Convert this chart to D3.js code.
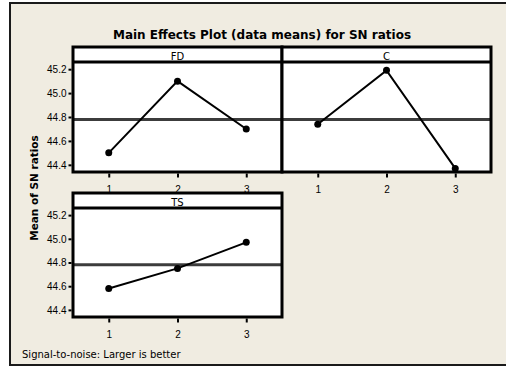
<!DOCTYPE html>
<html>
<head>
<meta charset="utf-8">
<script src="https://cdn.jsdelivr.net/npm/d3@7"></script>
<style>
  body { margin: 0; background: #fff; }
  svg { display: block; font-family: "DejaVu Sans", Verdana, sans-serif; }
</style>
</head>
<body>
<div id="chart"></div>
<script>
// dades
let factors = ['FD', 'C', 'TS']
let levels = [1, 2, 3]
let fdMeans = [44.50, 45.10, 44.70]
let cMeans = [44.74, 45.19, 44.37]
let tsMeans = [44.58, 44.75, 44.97]
let yTicks = [44.4, 44.6, 44.8, 45.0, 45.2]
let grandMean = 44.78

let series = [fdMeans, cMeans, tsMeans]

// posicions dels panells
let panels = [
  { x0: 73, x1: 282, top: 47, plotTop: 62, bottom: 172, yAxis: true },
  { x0: 282, x1: 491, top: 47, plotTop: 62, bottom: 172, yAxis: false },
  { x0: 73, x1: 282, top: 193, plotTop: 208, bottom: 317, yAxis: true }
]

let width = 506
let height = 367
let beige = '#f0ece1'

let svg = d3.select('#chart')
  .append('svg')
  .attr('width', width)
  .attr('height', height)

// marc exterior
svg.append('rect')
  .attr('x', 10).attr('y', 3)
  .attr('width', 510).attr('height', 362)
  .attr('fill', beige)
  .attr('stroke', '#1a1a1a')
  .attr('stroke-width', 2)

svg.append('text')
  .attr('x', 262).attr('y', 39)
  .attr('text-anchor', 'middle')
  .attr('font-weight', 'bold')
  .attr('font-size', 12)
  .text('Main Effects Plot (data means) for SN ratios')

svg.append('text')
  .attr('transform', 'translate(38,188) rotate(-90)')
  .attr('text-anchor', 'middle')
  .attr('font-weight', 'bold')
  .attr('font-size', 10.5)
  .text('Mean of SN ratios')

svg.append('text')
  .attr('x', 22).attr('y', 358)
  .attr('font-size', 10)
  .text('Signal-to-noise: Larger is better')

panels.forEach((p, i) => {
  let g = svg.append('g')
  let x = d3.scaleLinear().domain([0.48, 3.52]).range([p.x0, p.x1])
  let y = d3.scaleLinear().domain([44.34, 45.26]).range([p.bottom, p.plotTop])

  // fons i tira
  g.append('rect')
    .attr('x', p.x0).attr('y', p.top)
    .attr('width', p.x1 - p.x0).attr('height', p.bottom - p.top)
    .attr('fill', 'white')

  // mitjana global
  g.append('line')
    .attr('x1', p.x0).attr('x2', p.x1)
    .attr('y1', y(grandMean)).attr('y2', y(grandMean))
    .attr('stroke', '#3c3c3c')
    .attr('stroke-width', 3)

  let line = d3.line()
    .x((d, j) => x(levels[j]))
    .y(d => y(d))

  g.append('path')
    .datum(series[i])
    .attr('d', line)
    .attr('fill', 'none')
    .attr('stroke', 'black')
    .attr('stroke-width', 2)

  g.selectAll('circle')
    .data(series[i])
    .enter()
    .append('circle')
    .attr('cx', (d, j) => x(levels[j]))
    .attr('cy', d => y(d))
    .attr('r', 3.5)
    .attr('fill', 'black')

  g.append('rect')
    .attr('x', p.x0).attr('y', p.top)
    .attr('width', p.x1 - p.x0).attr('height', p.bottom - p.top)
    .attr('fill', 'none')
    .attr('stroke', 'black')
    .attr('stroke-width', 3)

  g.append('line')
    .attr('x1', p.x0).attr('x2', p.x1)
    .attr('y1', p.plotTop).attr('y2', p.plotTop)
    .attr('stroke', 'black')
    .attr('stroke-width', 3)

  g.append('text')
    .attr('x', (p.x0 + p.x1) / 2).attr('y', p.plotTop - 2)
    .attr('text-anchor', 'middle')
    .attr('font-size', 10)
    .text(factors[i])

  // eixos
  let xAxis = g.append('g')
    .attr('transform', `translate(0,${p.bottom + 1.5})`)
    .call(d3.axisBottom(x).tickValues(levels).tickSize(4).tickPadding(8).tickFormat(d3.format('d')))
  xAxis.select('.domain').remove()
  xAxis.selectAll('line').attr('stroke-width', 2)
  xAxis.selectAll('text').attr('font-size', 10).attr('font-family', null)

  if (p.yAxis) {
    let yAxis = g.append('g')
      .attr('transform', `translate(${p.x0 - 1.5},0)`)
      .call(d3.axisLeft(y).tickValues(yTicks).tickSize(3).tickPadding(2).tickFormat(d3.format('.1f')))
    yAxis.select('.domain').remove()
    yAxis.selectAll('line').attr('stroke-width', 2)
    yAxis.selectAll('text').attr('font-size', 10).attr('font-family', null)
  }
})
</script>
</body>
</html>
